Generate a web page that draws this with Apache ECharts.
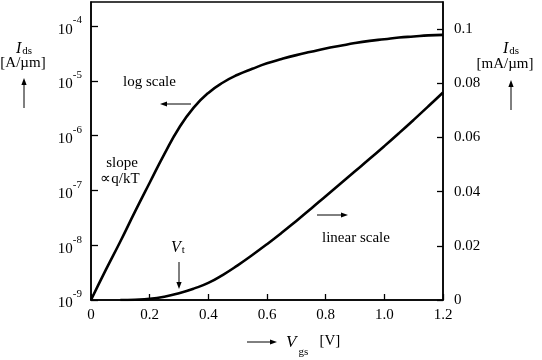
<!DOCTYPE html>
<html>
<head>
<meta charset="utf-8">
<script src="https://cdn.jsdelivr.net/npm/echarts@6/dist/echarts.min.js"></script>
<style>
  html, body { margin: 0; padding: 0; background: #fff; }
  #chartIds { width: 542px; height: 360px; }
</style>
</head>
<body>
<div id="chartIds"></div>
<script>
// gate voltage samples (V)
var vgsLog = [0, 0.05, 0.1, 0.15, 0.2, 0.25, 0.3, 0.35, 0.4, 0.45, 0.5, 0.55, 0.6,
              0.65, 0.7, 0.75, 0.8, 0.85, 0.9, 0.95, 1.0, 1.05, 1.1, 1.15, 1.2];
// drain current, log scale (A/um)
var idsLog = [1e-9, 3.5e-9, 1.17e-8, 4.1e-8, 1.38e-7, 4.6e-7, 1.38e-6, 3.24e-6, 6.03e-6, 9.33e-6,
              1.29e-5, 1.66e-5, 2.09e-5, 2.51e-5, 2.95e-5, 3.39e-5, 3.89e-5, 4.37e-5, 4.9e-5,
              5.37e-5, 5.75e-5, 6.17e-5, 6.46e-5, 6.76e-5, 6.92e-5];
var vgsLin = [0.1, 0.15, 0.2, 0.25, 0.3, 0.35, 0.4, 0.45, 0.5, 0.55, 0.6, 0.65, 0.7,
              0.75, 0.8, 0.85, 0.9, 0.95, 1.0, 1.05, 1.1, 1.15, 1.2];
// drain current, linear scale (mA/um)
var idsLin = [0, 0.0001, 0.0004, 0.0012, 0.0025, 0.0042, 0.0063, 0.0093, 0.0128, 0.0166,
              0.0206, 0.0248, 0.0292, 0.0337, 0.0383, 0.0429, 0.0475, 0.0521, 0.0568,
              0.0616, 0.0665, 0.0715, 0.0766];
var logTicks = [1e-9, 1e-8, 1e-7, 1e-6, 1e-5, 1e-4];
var linTicks = [0, 0.02, 0.04, 0.06, 0.08, 0.1];

var serif = 'Liberation Serif';

function pairs(xs, ys) {
  return xs.map(function (x, i) { return [x, ys[i]]; });
}

function arrow(x1, y1, x2, y2) {
  // thin line with a small filled head at (x2, y2)
  var a = Math.atan2(y2 - y1, x2 - x1);
  var L = 7, W = 2.6;
  var bx = x2 - L * Math.cos(a), by = y2 - L * Math.sin(a);
  return [
    { type: 'line', shape: { x1: x1, y1: y1, x2: bx, y2: by }, style: { stroke: '#000', lineWidth: 1 } },
    { type: 'polygon', shape: { points: [[x2, y2],
        [bx - W * Math.sin(a), by + W * Math.cos(a)],
        [bx + W * Math.sin(a), by - W * Math.cos(a)]] }, style: { fill: '#000' } }
  ];
}

function txt(x, y, text, align, rich) {
  return {
    type: 'text',
    style: {
      x: x, y: y, text: text, align: align || 'center', verticalAlign: 'middle',
      font: '15px "' + serif + '"', fill: '#000', rich: rich
    }
  };
}

var subRich = {
  i: { fontFamily: serif, fontSize: 16, fontStyle: 'italic', lineHeight: 18, verticalAlign: 'bottom' },
  s: { fontFamily: serif, fontSize: 11, lineHeight: 18, verticalAlign: 'bottom', padding: [0, 0, 0, 1] }
};
var bigSubRich = {
  i: { fontFamily: serif, fontSize: 17, fontStyle: 'italic', lineHeight: 20, verticalAlign: 'top' },
  s: { fontFamily: serif, fontSize: 11, lineHeight: 24, verticalAlign: 'bottom', padding: [0, 0, 0, 2] },
  n: { fontFamily: serif, fontSize: 15, lineHeight: 20, verticalAlign: 'top' }
};

var graphics = []
  .concat([txt(24, 48, '{i|I}{s|ds}', 'center', subRich), txt(23, 63, '[A/\u00b5m]')])
  .concat(arrow(24, 108, 24, 78))
  .concat([txt(511, 48, '{i|I}{s|ds}', 'center', subRich), txt(505, 64, '[mA/\u00b5m]')])
  .concat(arrow(511, 110, 511, 80))
  .concat(arrow(247, 342, 277, 342))
  .concat([txt(286, 346, '{i|V}{s|gs}{n|   [V]}', 'left', bigSubRich)])
  .concat([txt(123, 82, 'log scale', 'left')])
  .concat(arrow(191, 104, 160, 104))
  .concat([txt(122, 163, 'slope'), txt(120, 179, '\u221dq/kT')])
  .concat([txt(171, 247, '{i|V}{s|t}', 'left', subRich)])
  .concat(arrow(179, 262, 179, 289))
  .concat([txt(322, 238, 'linear scale', 'left')])
  .concat(arrow(317, 215, 348, 215));

var chart = echarts.init(document.getElementById('chartIds'));
chart.setOption({
  animation: false,
  textStyle: { fontFamily: serif },
  grid: { left: 91, right: 99, top: 2, bottom: 60, show: true, borderColor: '#000', borderWidth: 1.5 },
  xAxis: {
    type: 'value', min: 0, max: 1.2, interval: 0.2,
    axisLine: { lineStyle: { color: '#000', width: 1.5 } },
    axisTick: { inside: true, length: 6, lineStyle: { color: '#000', width: 1.3 } },
    axisLabel: {
      color: '#000', fontSize: 15, fontFamily: serif, margin: 8,
      formatter: function (v) { return v === 0 ? '0' : v.toFixed(1); }
    },
    splitLine: { show: false }
  },
  yAxis: [{
    type: 'log', logBase: 10, min: 1e-9, max: 2.75e-4, position: 'left',
    axisLine: { show: true, lineStyle: { color: '#000', width: 1.5 } },
    axisTick: { inside: true, length: 7, customValues: logTicks, lineStyle: { color: '#000', width: 1.3 } },
    axisLabel: {
      customValues: logTicks, margin: 9, color: '#000',
      formatter: function (v) { return '{b|10}{e|' + Math.round(Math.log10(v)) + '}'; },
      rich: {
        b: { fontFamily: serif, fontSize: 15, lineHeight: 16, verticalAlign: 'bottom' },
        e: { fontFamily: serif, fontSize: 11, lineHeight: 22, verticalAlign: 'top' }
      }
    },
    splitLine: { show: false }
  }, {
    type: 'value', min: 0, max: 0.11, interval: 0.02, position: 'right',
    axisLine: { show: true, lineStyle: { color: '#000', width: 1.5 } },
    axisTick: { inside: true, length: 6, customValues: linTicks, lineStyle: { color: '#000', width: 1.3 } },
    axisLabel: {
      customValues: linTicks, margin: 11, color: '#000', fontSize: 15, fontFamily: serif,
      formatter: function (v) { return v === 0 ? '0' : String(Math.round(v * 100) / 100); }
    },
    splitLine: { show: false }
  }],
  series: [{
    name: 'log scale', type: 'line', yAxisIndex: 0, smooth: true, symbol: 'none',
    lineStyle: { color: '#000', width: 2.6 },
    data: pairs(vgsLog, idsLog)
  }, {
    name: 'linear scale', type: 'line', yAxisIndex: 1, smooth: true, symbol: 'none',
    lineStyle: { color: '#000', width: 2.6 },
    data: pairs(vgsLin, idsLin)
  }],
  graphic: graphics
});
</script>
</body>
</html>
